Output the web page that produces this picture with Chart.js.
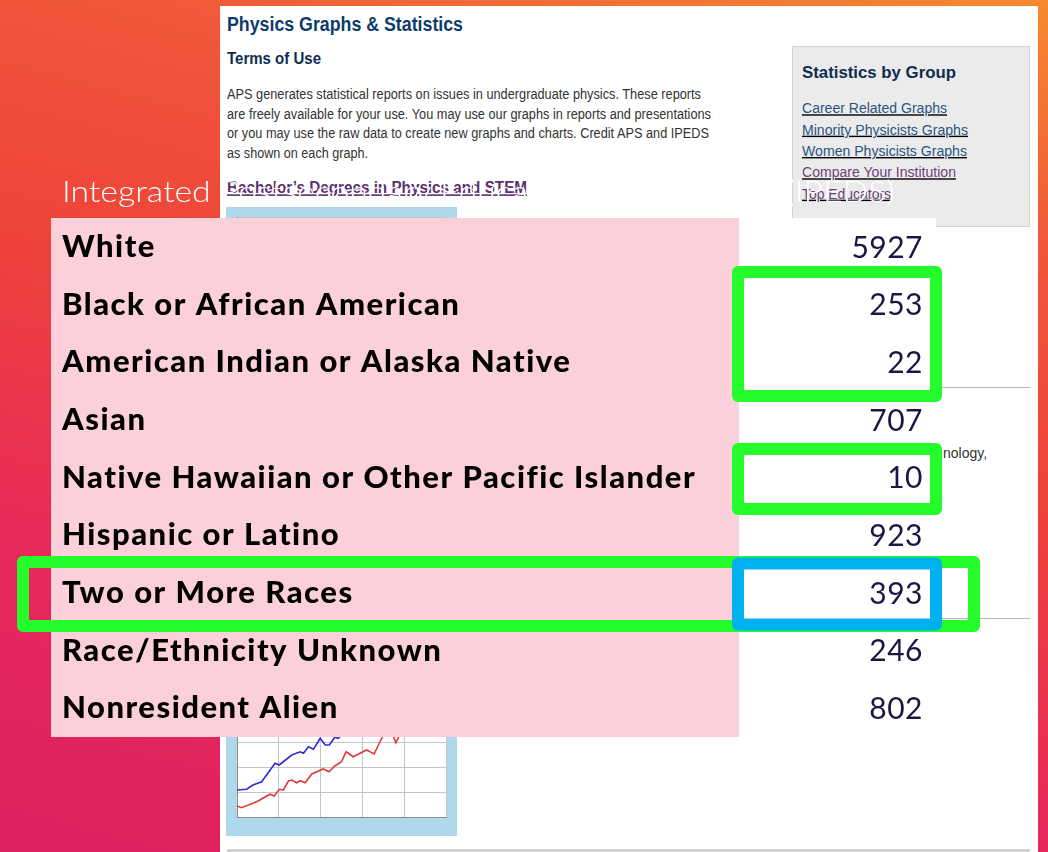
<!DOCTYPE html>
<html>
<head>
<meta charset="utf-8">
<script src="https://cdn.jsdelivr.net/npm/chart.js@4.4.1/dist/chart.umd.min.js"></script>
<style>
html, body { margin: 0; padding: 0; }
body {
  width: 1048px; height: 852px; overflow: hidden; position: relative;
  background: linear-gradient(195deg, #f68a2f 0%, #f0573a 22%, #ee433a 45%, #e9285a 72%, #dc2160 100%);
}
svg, canvas { position: absolute; }
#page, #title, #table-chart { left: 0; top: 0; }
#thumb-chart { left: 226px; top: 207px; }
</style>
</head>
<body>

<!-- the web page screenshot behind the table -->
<svg id="page" width="1048" height="852">
  <rect x="220" y="6" width="818" height="846" fill="#fff"/>
  <g font-family="Liberation Sans, Arial, sans-serif">
    <text x="227" y="30.7" font-size="19.5" font-weight="bold" fill="#0d3b6c" textLength="236" lengthAdjust="spacingAndGlyphs">Physics Graphs &amp; Statistics</text>
    <text x="227" y="64" font-size="16.5" font-weight="bold" fill="#0f2d4f" textLength="94" lengthAdjust="spacingAndGlyphs">Terms of Use</text>
    <g font-size="14" fill="#333">
      <text x="227" y="99.3" textLength="474" lengthAdjust="spacingAndGlyphs">APS generates statistical reports on issues in undergraduate physics. These reports</text>
      <text x="227" y="119" textLength="484" lengthAdjust="spacingAndGlyphs">are freely available for your use. You may use our graphs in reports and presentations</text>
      <text x="227" y="138.3" textLength="482" lengthAdjust="spacingAndGlyphs">or you may use the raw data to create new graphs and charts. Credit APS and IPEDS</text>
      <text x="227" y="157.7" textLength="141" lengthAdjust="spacingAndGlyphs">as shown on each graph.</text>
      <text x="943" y="458.3">nology,</text>
    </g>
    <text x="227" y="193.3" font-size="16" font-weight="bold" fill="#5d2f6f" text-decoration="underline" textLength="300" lengthAdjust="spacingAndGlyphs">Bachelor’s Degrees in Physics and STEM</text>

    <rect x="792.5" y="46.5" width="237" height="180" fill="#ebebeb" stroke="#d2d2d2"/>
    <text x="802" y="77.7" font-size="16" font-weight="bold" fill="#0f2d4f" textLength="154" lengthAdjust="spacingAndGlyphs">Statistics by Group</text>
    <g font-size="14" text-decoration="underline">
      <text x="802" y="113.3" fill="#2a5581" textLength="145" lengthAdjust="spacingAndGlyphs">Career Related Graphs</text>
      <text x="802" y="134.7" fill="#2a5581" textLength="166" lengthAdjust="spacingAndGlyphs">Minority Physicists Graphs</text>
      <text x="802" y="156" fill="#2a5581" textLength="165" lengthAdjust="spacingAndGlyphs">Women Physicists Graphs</text>
      <text x="802" y="177.3" fill="#6e4179" textLength="154" lengthAdjust="spacingAndGlyphs">Compare Your Institution</text>
      <text x="802" y="198.7" fill="#6e4179" textLength="89" lengthAdjust="spacingAndGlyphs">Top Educators</text>
    </g>
  </g>
  <rect x="226" y="207" width="231" height="629" fill="#b0d8ec"/>
  <rect x="237" y="217" width="209" height="600" fill="#fff"/>
  <line x1="463" y1="387.5" x2="1030" y2="387.5" stroke="#b8b8b8"/>
  <line x1="463" y1="618.5" x2="1030" y2="618.5" stroke="#b8b8b8"/>
  <line x1="227" y1="850.5" x2="1030" y2="850.5" stroke="#c0c0c0" stroke-width="2"/>
</svg>

<canvas id="thumb-chart" width="231" height="629"></canvas>

<svg id="title" width="1048" height="852">
  <text x="62" y="201.7" font-family="Lato, sans-serif" font-weight="300" font-size="30" fill="#fff" textLength="833" lengthAdjust="spacingAndGlyphs">Integrated Postsecondary Education Data System (IPEDS)</text>
</svg>

<canvas id="table-chart" width="1048" height="852"></canvas>

<script>
// table rows
const categories = [
  "White",
  "Black or African American",
  "American Indian or Alaska Native",
  "Asian",
  "Native Hawaiian or Other Pacific Islander",
  "Hispanic or Latino",
  "Two or More Races",
  "Race/Ethnicity Unknown",
  "Nonresident Alien",
];
const degrees = [5927, 253, 22, 707, 10, 923, 393, 246, 802];

// highlighted rows: [first row, last row, "value" column only or whole "row"]
const greenBoxes = [[1, 2, "value"], [4, 4, "value"], [6, 6, "row"]];
const blueBoxes = [[6, 6, "value"]];

// small thumbnail graph in the screenshot, [x, y] in grid units
const thumbBlue = [
  [0, 1.08], [0.23, 1.11], [0.38, 1.28], [0.59, 1.41], [0.91, 2.15], [1.01, 2.08],
  [1.31, 2.48], [1.51, 2.61], [1.59, 2.55], [1.71, 2.81], [1.83, 2.71], [1.99, 3.15],
  [2.11, 2.88], [2.21, 2.88], [2.34, 3.19], [2.42, 3.15], [2.5, 3.28], [2.94, 3.9],
  [3.9, 4.7], [5, 5.5],
];
const thumbRed = [
  [0, 0.44], [0.11, 0.37], [0.47, 0.61], [0.79, 0.91], [0.89, 0.84], [1.01, 1.11],
  [1.11, 1.08], [1.23, 1.44], [1.31, 1.48], [1.43, 1.37], [1.51, 1.45], [1.63, 1.37],
  [1.79, 1.72], [2.06, 1.92], [2.2, 1.81], [2.34, 2.04], [2.5, 2.21], [2.61, 2.61],
  [2.78, 2.41], [3.1, 2.68], [3.28, 2.52], [3.5, 3.28], [3.64, 3.7], [3.8, 2.97],
  [4.02, 3.7], [5, 4.7],
];

Chart.defaults.font.family = "Lato";

// ---- thumbnail ----
const gridStyle = { color: "#c4c4c4", drawTicks: false };
const thumbChart = new Chart(document.querySelector("#thumb-chart").getContext("2d"), {
  type: "line",
  data: {
    datasets: [
      { data: thumbBlue.map(p => ({ x: p[0], y: p[1] })), borderColor: "#2c2cd2", borderWidth: 1.6, pointRadius: 0 },
      { data: thumbRed.map(p => ({ x: p[0], y: p[1] })), borderColor: "#e03a3a", borderWidth: 1.6, pointRadius: 0 },
    ],
  },
  options: {
    responsive: false,
    animation: false,
    events: [],
    layout: { padding: { left: 11, right: 11, top: 10, bottom: 19 } },
    plugins: { legend: { display: false }, tooltip: { enabled: false } },
    scales: {
      x: { type: "linear", min: 0, max: 5, ticks: { display: false, stepSize: 1 }, grid: gridStyle, border: { color: "#8c8c8c" } },
      y: { min: 0, max: 24, ticks: { display: false, stepSize: 1 }, grid: gridStyle, border: { color: "#8c8c8c" } },
    },
  },
});

// ---- table ----
const tableBackground = {
  id: "tableBackground",
  beforeDraw(chart) {
    const ctx = chart.ctx, y = chart.scales.y, a = chart.chartArea;
    ctx.save();
    ctx.fillStyle = "#fbd0da";
    ctx.fillRect(y.left - 11, y.top, y.right - y.left + 11, y.bottom - y.top);
    ctx.fillStyle = "#fff";
    ctx.fillRect(a.left, a.top, a.right - a.left, a.bottom - a.top);
    ctx.restore();
    // wider set for the row labels
    ctx.letterSpacing = "1.5px";
  },
};

const valueLabels = {
  id: "valueLabels",
  afterDatasetsDraw(chart) {
    const ctx = chart.ctx, a = chart.chartArea;
    ctx.save();
    ctx.letterSpacing = "0.5px";
    ctx.font = "400 30px Lato";
    ctx.fillStyle = "#1b1744";
    ctx.textAlign = "right";
    ctx.textBaseline = "middle";
    chart.getDatasetMeta(0).data.forEach((bar, i) => {
      ctx.fillText(String(degrees[i]), a.right - 13, bar.y + 1);
    });
    ctx.restore();
  },
};

// tweak of each box edge, px: [top, bottom]
const boxPads = { "1-value": [-3.7, 5], "4-value": [0.3, 2.7], "6-row": [-2, 4.3], "6-value": [-0.5, 2.8] };

const highlightBoxes = {
  id: "highlightBoxes",
  afterDraw(chart) {
    const ctx = chart.ctx, y = chart.scales.y, a = chart.chartArea;
    const band = y.getPixelForValue(1) - y.getPixelForValue(0);
    const draw = (box, color) => {
      const pad = boxPads[box[0] + "-" + box[2]];
      const top = y.getPixelForValue(box[0]) - band / 2 + pad[0];
      const bottom = y.getPixelForValue(box[1]) + band / 2 + pad[1];
      const left = box[2] === "row" ? y.left - 39 : a.left - 1;
      const right = box[2] === "row" ? a.right + 38 : a.right;
      ctx.strokeStyle = color;
      ctx.strokeRect(left, top, right - left, bottom - top);
    };
    ctx.save();
    ctx.lineWidth = 12;
    ctx.lineJoin = "round";
    greenBoxes.forEach(b => draw(b, "#24fc2b"));
    blueBoxes.forEach(b => draw(b, "#01b1ef"));
    ctx.restore();
    ctx.letterSpacing = "0px";
  },
};

const tableChart = new Chart(document.querySelector("#table-chart").getContext("2d"), {
  type: "bar",
  data: {
    labels: categories,
    datasets: [{ data: degrees, backgroundColor: "rgba(0,0,0,0)" }],
  },
  options: {
    indexAxis: "y",
    responsive: false,
    animation: false,
    events: [],
    layout: { padding: { left: 62, right: 112, top: 218, bottom: 115 } },
    plugins: { legend: { display: false }, tooltip: { enabled: false } },
    scales: {
      x: { display: false, min: 0, max: 6000 },
      y: {
        afterFit(scale) { scale.width = 677; },
        grid: { display: false },
        border: { display: false },
        ticks: {
          crossAlign: "far",
          autoSkip: false,
          color: "#000",
          font: { size: 31, weight: "900" },
        },
      },
    },
  },
  plugins: [tableBackground, valueLabels, highlightBoxes],
});
</script>
</body>
</html>
